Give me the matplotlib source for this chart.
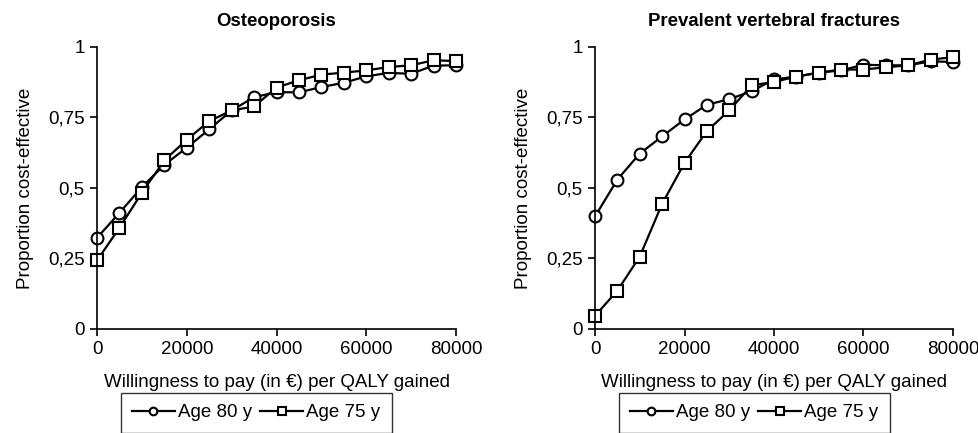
import matplotlib.pyplot as plt
from matplotlib.ticker import FixedLocator, FixedFormatter

plt.rcParams['font.family'] = ['Liberation Sans', 'DejaVu Sans']

wtp = [0, 5000, 10000, 15000, 20000, 25000, 30000, 35000, 40000,
       45000, 50000, 55000, 60000, 65000, 70000, 75000, 80000]

# Osteoporosis
osteo_80 = [0.323, 0.412, 0.503, 0.582, 0.643, 0.708, 0.775, 0.822, 0.840,
            0.839, 0.858, 0.873, 0.896, 0.908, 0.905, 0.934, 0.935]
osteo_75 = [0.243, 0.359, 0.483, 0.598, 0.671, 0.737, 0.775, 0.789, 0.856,
            0.882, 0.902, 0.909, 0.917, 0.929, 0.935, 0.953, 0.950]

# Prevalent vertebral fractures
vert_80 = [0.399, 0.530, 0.622, 0.683, 0.743, 0.795, 0.815, 0.843, 0.885,
           0.895, 0.909, 0.917, 0.937, 0.935, 0.935, 0.949, 0.947]
vert_75 = [0.047, 0.136, 0.257, 0.444, 0.589, 0.702, 0.775, 0.864, 0.876,
           0.895, 0.909, 0.920, 0.920, 0.928, 0.935, 0.955, 0.964]

titles = ['Osteoporosis', 'Prevalent vertebral fractures']
panels = [(osteo_80, osteo_75), (vert_80, vert_75)]
yticks = [0, 0.25, 0.5, 0.75, 1]
ytick_labels = ['0', '0,25', '0,5', '0,75', '1']
xticks = [0, 20000, 40000, 60000, 80000]

fs = 13.5
fig = plt.figure(figsize=(9.79, 4.33), dpi=100)
positions = [[0.0991, 0.2402, 0.3667, 0.6513],
             [0.6078, 0.2402, 0.3656, 0.6513]]

for pos, title, (s80, s75) in zip(positions, titles, panels):
    ax = fig.add_axes(pos)
    style = dict(color='black', lw=1.6, markersize=8.5, markerfacecolor='white',
                 markeredgecolor='black', markeredgewidth=1.5, clip_on=False)
    l80, = ax.plot(wtp, s80, marker='o', label='Age 80 y', **style)
    l75, = ax.plot(wtp, s75, marker='s', label='Age 75 y', **style)
    ax.set_xlim(0, 80000)
    ax.set_ylim(0, 1)
    ax.xaxis.set_major_locator(FixedLocator(xticks))
    ax.xaxis.set_major_formatter(FixedFormatter([str(x) for x in xticks]))
    ax.yaxis.set_major_locator(FixedLocator(yticks))
    ax.yaxis.set_major_formatter(FixedFormatter(ytick_labels))
    for s in ['top', 'right']:
        ax.spines[s].set_visible(False)
    for s in ['left', 'bottom']:
        ax.spines[s].set_linewidth(1.2)
    ax.tick_params(direction='out', length=5, width=1.2, labelsize=fs, pad=4)
    ax.set_title(title, fontsize=13.4, fontweight='bold', pad=15)
    ax.set_ylabel('Proportion cost-effective', fontsize=fs, labelpad=10)
    ax.set_xlabel('Willingness to pay (in €) per QALY gained', fontsize=fs, labelpad=11)
    leg = ax.legend(handles=[l80, l75], loc='upper left',
                    bbox_to_anchor=(pos[0] + 0.024, 1 - 393 / 433),
                    bbox_transform=fig.transFigure, ncol=2, frameon=True,
                    fancybox=False, edgecolor='black', fontsize=fs,
                    handlelength=2.3, handletextpad=0.15, columnspacing=0.45,
                    borderpad=0.6, borderaxespad=0, markerscale=0.65)
    leg.get_frame().set_linewidth(1.0)

fig.savefig('out.png', dpi=100)
